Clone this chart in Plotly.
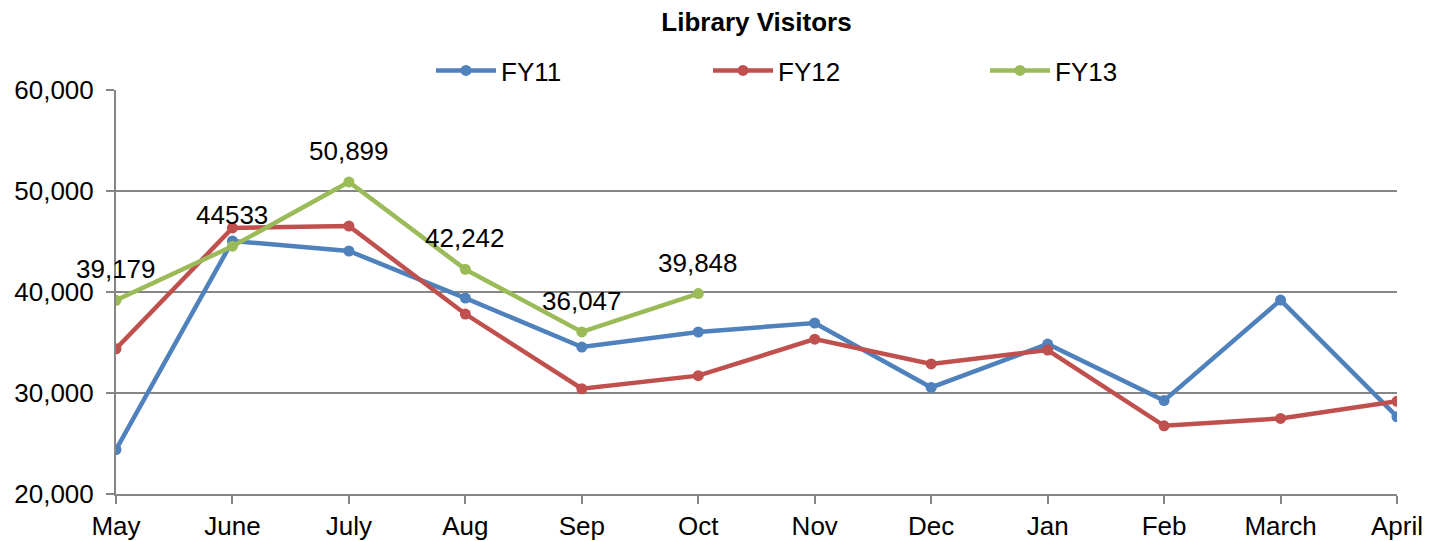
import plotly.graph_objects as go

months = ["May", "June", "July", "Aug", "Sep", "Oct", "Nov", "Dec", "Jan", "Feb", "March", "April"]
fy11 = [24400, 45050, 44060, 39400, 34550, 36040, 36930, 30550, 34850, 29250, 39200, 27650]
fy12 = [34380, 46340, 46530, 37820, 30420, 31720, 35330, 32880, 34250, 26750, 27480, 29180]
fy13_months = ["May", "June", "July", "Aug", "Sep", "Oct"]
fy13 = [39179, 44533, 50899, 42242, 36047, 39848]
fy13_labels = ["39,179", "44533", "50,899", "42,242", "36,047", "39,848"]

FONT = "Liberation Sans, Arial, sans-serif"
FS = 26
W, H = 1434, 533  # page body has an 8px margin

fig = go.Figure()
for name, xs, ys, col in [("FY11", months, fy11, "#4F81BD"),
                          ("FY12", months, fy12, "#C0504D"),
                          ("FY13", fy13_months, fy13, "#9BBB59")]:
    fig.add_trace(go.Scatter(x=xs, y=ys, name=name, mode="lines+markers",
                             line=dict(color=col, width=4.5),
                             marker=dict(color=col, size=11)))

for x, y, t in zip(fy13_months, fy13, fy13_labels):
    fig.add_annotation(x=x, y=y, text=t, showarrow=False, yshift=31,
                       font=dict(family=FONT, size=FS, color="black"))

fig.update_layout(
    width=W, height=H,
    paper_bgcolor="white", plot_bgcolor="white",
    margin=dict(l=108, r=45, t=82, b=47, autoexpand=False),
    title=dict(text="<b>Library Visitors</b>", x=0.5, xref="paper", xanchor="center",
               y=1 - 14 / H, yref="container", yanchor="middle",
               font=dict(family=FONT, size=FS, color="black")),
    legend=dict(orientation="h", x=0.5 + 90 / 1281, xanchor="center", y=1 - 4 / 404, yanchor="bottom",
                font=dict(family=FONT, size=FS, color="black"),
                entrywidth=202, itemwidth=60, bgcolor="rgba(0,0,0,0)"),
    font=dict(family=FONT, size=FS, color="black"),
    showlegend=True,
)
fig.update_xaxes(type="category", categoryorder="array", categoryarray=months,
                 range=[0, 11], showline=True, linecolor="#868686", linewidth=2,
                 showgrid=False, ticks="outside", ticklen=8, tickcolor="#868686", tickwidth=2,
                 tickfont=dict(family=FONT, size=FS, color="black"), zeroline=False,
                 automargin=False)
fig.update_yaxes(range=[20000, 60000], dtick=10000, tickformat=",d",
                 showline=True, linecolor="#868686", linewidth=2,
                 showgrid=True, gridcolor="#868686", gridwidth=2,
                 ticks="outside", ticklen=8, tickcolor="#868686", tickwidth=2,
                 ticklabelstandoff=7,
                 tickfont=dict(family=FONT, size=FS, color="black"), zeroline=False,
                 automargin=False)

fig.write_html("out.html")
